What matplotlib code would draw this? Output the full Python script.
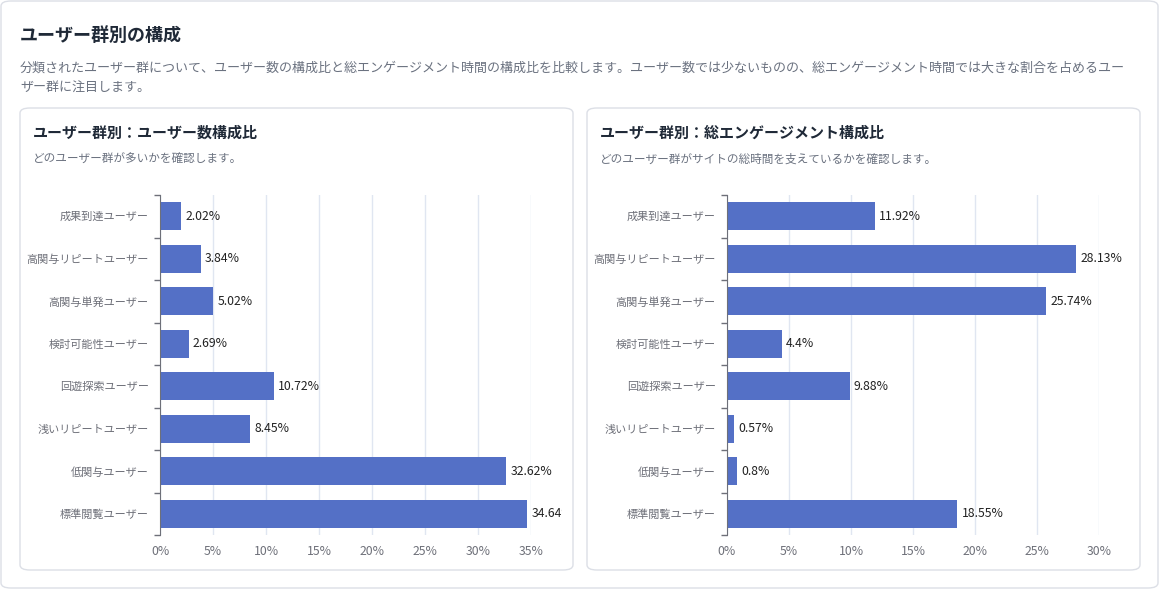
import matplotlib.pyplot as plt
from matplotlib.patches import FancyBboxPatch, Rectangle
from matplotlib.ticker import FixedLocator

plt.rcParams['font.family'] = ['Noto Sans CJK JP', 'DejaVu Sans']

# data (top to bottom)
groups = ['成果到達ユーザー', '高関与リピートユーザー', '高関与単発ユーザー', '検討可能性ユーザー',
          '回遊探索ユーザー', '浅いリピートユーザー', '低関与ユーザー', '標準閲覧ユーザー']
user_share = [2.02, 3.84, 5.02, 2.69, 10.72, 8.45, 32.62, 34.64]
engage_share = [11.92, 28.13, 25.74, 4.4, 9.88, 0.57, 0.8, 18.55]

W, H = 1160, 590
fig = plt.figure(figsize=(W / 100, H / 100), dpi=100)
fig.patch.set_facecolor('white')


def fx(x):
    return x / W


def fy(y):
    return 1 - y / H


def card(x0, y0, x1, y1, r):
    p = FancyBboxPatch((fx(x0), fy(y1)), fx(x1 - x0), (y1 - y0) / H,
                       boxstyle=f"round,pad=0,rounding_size={r / W}",
                       transform=fig.transFigure, facecolor='white',
                       edgecolor='#dcdfe6', linewidth=1, zorder=0)
    fig.add_artist(p)
    return p


card(1, 1, 1158, 588, 10)
card(20, 108, 573, 570, 10)
card(587, 108, 1140, 570, 10)

fig.text(fx(20), fy(35), 'ユーザー群別の構成', fontsize=13, fontweight='bold',
         color='#1f2937', va='center')
fig.text(fx(20), fy(68), '分類されたユーザー群について、ユーザー数の構成比と総エンゲージメント時間の構成比を比較します。'
         'ユーザー数では少ないものの、総エンゲージメント時間では大きな割合を占めるユー',
         fontsize=9.4, color='#6b7280', va='center')
fig.text(fx(20), fy(88), 'ザー群に注目します。', fontsize=9.4, color='#6b7280', va='center')

panels = [
    (33, 'ユーザー群別：ユーザー数構成比', 'どのユーザー群が多いかを確認します。',
     160, 531, user_share, 35, 562),
    (600, 'ユーザー群別：総エンゲージメント構成比', 'どのユーザー群がサイトの総時間を支えているかを確認します。',
     727, 1099, engage_share, 30, 1130),
]

for tx, title, sub, ax0, ax1, vals, xmax, clip_x in panels:
    fig.text(fx(tx), fy(133), title, fontsize=10.8, fontweight='bold', color='#1f2937', va='center')
    fig.text(fx(tx), fy(159), sub, fontsize=8.4, color='#6b7280', va='center')

    ax = fig.add_axes([fx(ax0), fy(535), fx(ax1 - ax0), (535 - 195) / H])
    ypos = list(range(len(groups)))
    ax.barh(ypos, vals, height=0.66, color='#5470c6', zorder=2)
    ax.set_ylim(len(groups) - 0.5, -0.5)
    ax.set_xlim(0, xmax)
    ax.set_xticks(range(0, xmax + 1, 5))
    ax.set_xticklabels([f'{t}%' for t in range(0, xmax + 1, 5)])
    ax.grid(axis='x', color='#e0e6f1', linewidth=1, zorder=0)
    ax.set_yticks(ypos)
    ax.set_yticklabels(groups)
    ax.yaxis.set_minor_locator(FixedLocator([i - 0.5 for i in range(len(groups) + 1)]))
    ax.tick_params(axis='y', which='major', length=0, pad=8, labelsize=8, labelcolor='#6e7079')
    ax.tick_params(axis='y', which='minor', length=4, color='#6e7079', width=1)
    ax.tick_params(axis='x', length=0, pad=7, labelsize=8.8, labelcolor='#6e7079')
    for s in ['top', 'right', 'bottom']:
        ax.spines[s].set_visible(False)
    ax.spines['left'].set_color('#6e7079')
    ax.set_facecolor('none')

    # value labels, cut off at the card edge like the original
    clip_rect = Rectangle((0, 0), fx(clip_x), 1, transform=fig.transFigure)
    for y, v in zip(ypos, vals):
        t = ax.text(v + xmax * 0.012, y, f'{v:g}%', va='center', ha='left',
                    fontsize=8.8, color='#222222')
        t.set_clip_on(True)
        t.set_clip_box(None)
        t.set_clip_path(clip_rect)

plt.savefig('out.png', dpi=100)
